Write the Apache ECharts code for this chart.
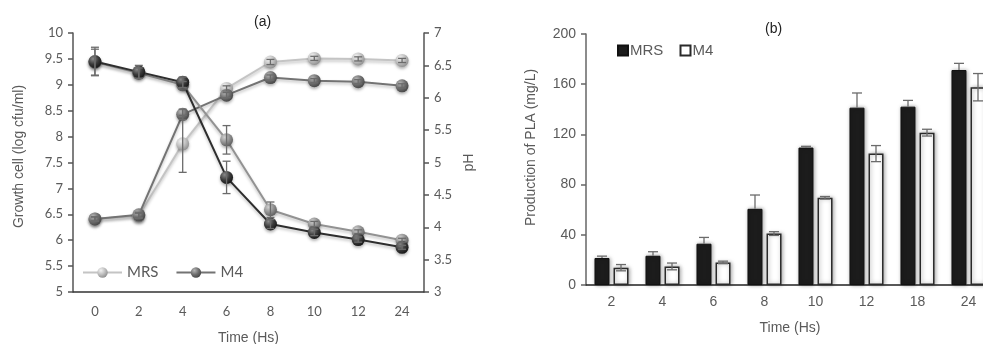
<!DOCTYPE html>
<html lang="en">
<head>
  <meta charset="UTF-8">
  <title>Growth, pH and PLA</title>
  <style>
    html, body { margin: 0; padding: 0; background: #fff; }
    #chart { width: 983px; height: 344px; }
  </style>
</head>
<body>
  <div id="chart"></div>
  <script src="https://cdn.jsdelivr.net/npm/echarts@6/dist/echarts.min.js"></script>
  <script>
    // (a) growth + pH
    var timeA = ['0', '2', '4', '6', '8', '10', '12', '24']
    var growthMRS = [6.41, 6.47, 7.86, 8.93, 9.44, 9.51, 9.5, 9.47]
    var growthMRSErr = [0.04, 0.05, 0.55, 0.05, 0.05, 0.04, 0.04, 0.04]
    var growthM4 = [6.41, 6.49, 8.43, 8.8, 9.14, 9.08, 9.06, 8.98]
    var growthM4Err = [0.04, 0.05, 0.1, 0.05, 0.05, 0.04, 0.04, 0.04]
    var phMRS = [6.55, 6.38, 6.2, 5.35, 4.27, 4.05, 3.93, 3.8]
    var phMRSErr = [0.2, 0.08, 0.05, 0.22, 0.12, 0.04, 0.03, 0.03]
    var phM4 = [6.56, 6.4, 6.24, 4.77, 4.05, 3.92, 3.81, 3.69]
    var phM4Err = [0.22, 0.1, 0.08, 0.25, 0.07, 0.05, 0.04, 0.03]

    // (b) PLA production
    var timeB = ['2', '4', '6', '8', '10', '12', '18', '24']
    var plaMRS = [21.5, 23.3, 32.9, 60.7, 109.5, 141.3, 142.1, 171.3]
    var plaMRSErr = [1.5, 3.2, 5, 11, 1, 11.7, 5, 5.3]
    var plaM4 = [13.8, 14.8, 18, 41, 69.5, 104.7, 121.4, 157.6]
    var plaM4Err = [2.5, 2.7, 1, 1.5, 1, 6.4, 2.7, 10.9]

    var tickFont = 'Lato, "Open Sans", sans-serif'
    var titleFont = '"Liberation Sans", Arial, sans-serif'
    var textGray = '#5a5a5a'

    function sphere(base, light, dark) {
      return new echarts.graphic.RadialGradient(0.35, 0.3, 0.75, [
        { offset: 0, color: light },
        { offset: 0.55, color: base },
        { offset: 1, color: dark }
      ])
    }

    function errData(vals, errs) {
      return vals.map(function (v, i) { return [i, v, errs[i]] })
    }

    // draws one error bar per point; offset shifts it sideways (bars)
    function errRender(offset, upOnly, cap) {
      return function (params, api) {
        var i = api.value(0)
        var v = api.value(1)
        var e = api.value(2)
        var top = api.coord([i, v + e])
        var bot = api.coord([i, upOnly ? v : v - e])
        var x = top[0] + offset
        var style = { stroke: '#6b6b6b', lineWidth: 1.3 }
        var kids = [
          { type: 'line', shape: { x1: x, y1: top[1], x2: x, y2: bot[1] }, style: style },
          { type: 'line', shape: { x1: x - cap, y1: top[1], x2: x + cap, y2: top[1] }, style: style }
        ]
        if (!upOnly) {
          kids.push({ type: 'line', shape: { x1: x - cap, y1: bot[1], x2: x + cap, y2: bot[1] }, style: style })
        }
        return { type: 'group', children: kids }
      }
    }

    function lineSeries(name, data, yIdx, lineColor, base, light, dark) {
      return {
        name: name,
        type: 'line',
        xAxisIndex: 0,
        yAxisIndex: yIdx,
        data: data,
        symbol: 'circle',
        symbolSize: 13,
        lineStyle: {
          color: lineColor, width: 2,
          shadowColor: 'rgba(0,0,0,0.25)', shadowBlur: 3, shadowOffsetY: 2
        },
        itemStyle: {
          color: sphere(base, light, dark),
          shadowColor: 'rgba(0,0,0,0.3)', shadowBlur: 3, shadowOffsetY: 2
        },
        z: 3
      }
    }

    function errSeries(vals, errs, xIdx, yIdx, offset, upOnly, cap) {
      return {
        type: 'custom',
        xAxisIndex: xIdx,
        yAxisIndex: yIdx,
        data: errData(vals, errs),
        encode: { x: 0, y: 1 },
        renderItem: errRender(offset, upOnly, cap),
        silent: true,
        z: 4
      }
    }

    var myChart = echarts.init(document.getElementById('chart'))

    var option = {
      animation: false,
      title: [
        { text: '(a)', left: 249, top: 10, textStyle: { fontFamily: titleFont, fontSize: 14, fontWeight: 'normal', color: '#222' } },
        { text: '(b)', left: 760, top: 17, textStyle: { fontFamily: titleFont, fontSize: 14, fontWeight: 'normal', color: '#222' } }
      ],
      legend: [
        {
          data: ['MRS', 'M4'],
          left: 82, top: 265, padding: 0,
          itemWidth: 39, itemHeight: 13, itemGap: 17,
          textStyle: { fontFamily: tickFont, fontSize: 15, color: textGray }
        },
        {
          data: [
            { name: 'MRS ', icon: 'rect' },
            { name: 'M4 ', icon: 'rect' }
          ],
          left: 617, top: 43, padding: 0,
          itemWidth: 10, itemHeight: 10, itemGap: 12,
          textStyle: { fontFamily: titleFont, fontSize: 15, color: textGray, padding: [0, 0, 0, -3] }
        }
      ],
      grid: [
        { left: 73, top: 33, width: 351, height: 259, outerBoundsMode: 'none' },
        { left: 586, top: 34, width: 408, height: 251, outerBoundsMode: 'none' }
      ],
      xAxis: [
        {
          type: 'category', gridIndex: 0, data: timeA,
          name: 'Time (Hs)', nameLocation: 'middle', nameGap: 39,
          nameTextStyle: { fontFamily: titleFont, fontSize: 14, color: textGray },
          axisLine: { lineStyle: { color: '#333', width: 1.5 } },
          axisTick: { length: 5, lineStyle: { color: '#333', width: 1.5 } },
          axisLabel: { fontFamily: tickFont, fontSize: 13, color: textGray, margin: 13 }
        },
        {
          type: 'category', gridIndex: 1, data: timeB,
          name: 'Time (Hs)', nameLocation: 'middle', nameGap: 36,
          nameTextStyle: { fontFamily: titleFont, fontSize: 14, color: textGray },
          axisLine: { lineStyle: { color: '#222', width: 1.5 } },
          axisTick: { length: 5, lineStyle: { color: '#222', width: 1.5 } },
          axisLabel: { fontFamily: titleFont, fontSize: 14, color: textGray, margin: 10 }
        }
      ],
      yAxis: [
        {
          type: 'value', gridIndex: 0, min: 5, max: 10, interval: 0.5,
          name: 'Growth cell (log cfu/ml)', nameLocation: 'middle', nameGap: 47,
          nameTextStyle: { fontFamily: titleFont, fontSize: 14, color: textGray, padding: [0, 0, 0, 12] },
          axisLine: { show: true, lineStyle: { color: '#555', width: 1.5 } },
          axisTick: { show: true, length: 5, lineStyle: { color: '#555', width: 1.5 } },
          axisLabel: { fontFamily: tickFont, fontSize: 13, color: textGray, margin: 10 },
          splitLine: { show: false }
        },
        {
          type: 'value', gridIndex: 0, position: 'right', min: 3, max: 7, interval: 0.5,
          name: 'pH', nameLocation: 'middle', nameGap: 38, nameRotate: 90,
          nameTextStyle: { fontFamily: titleFont, fontSize: 14, color: textGray },
          axisLine: { show: true, lineStyle: { color: '#555', width: 1.5 } },
          axisTick: { show: true, length: 5, lineStyle: { color: '#555', width: 1.5 } },
          axisLabel: { fontFamily: tickFont, fontSize: 13, color: textGray, margin: 10 },
          splitLine: { show: false }
        },
        {
          type: 'value', gridIndex: 1, min: 0, max: 200, interval: 40,
          name: 'Production of PLA (mg/L)', nameLocation: 'middle', nameGap: 48,
          nameTextStyle: { fontFamily: titleFont, fontSize: 14, color: textGray, padding: [0, 0, 0, 24] },
          axisLine: { show: true, lineStyle: { color: '#666', width: 1.5 } },
          axisTick: { show: true, length: 5, lineStyle: { color: '#666', width: 1.5 } },
          axisLabel: { fontFamily: titleFont, fontSize: 14, color: textGray, margin: 10 },
          splitLine: { show: false }
        }
      ],
      series: [
        lineSeries('MRS', growthMRS, 0, '#c4c4c4', '#bdbdbd', '#f2f2f2', '#8e8e8e'),
        lineSeries('M4', growthM4, 0, '#737373', '#6e6e6e', '#b5b5b5', '#454545'),
        lineSeries('pH MRS', phMRS, 1, '#929292', '#8f8f8f', '#d0d0d0', '#5c5c5c'),
        lineSeries('pH M4', phM4, 1, '#2e2e2e', '#3a3a3a', '#8a8a8a', '#151515'),
        errSeries(growthMRS, growthMRSErr, 0, 0, 0, false, 4),
        errSeries(growthM4, growthM4Err, 0, 0, 0, false, 4),
        errSeries(phMRS, phMRSErr, 0, 1, 0, false, 4),
        errSeries(phM4, phM4Err, 0, 1, 0, false, 4),
        {
          name: 'MRS ', type: 'bar', xAxisIndex: 1, yAxisIndex: 2,
          data: plaMRS, barWidth: 15, barGap: '27%',
          itemStyle: {
            color: '#1c1c1c', borderColor: '#111', borderWidth: 1,
            shadowColor: 'rgba(0,0,0,0.35)', shadowBlur: 4, shadowOffsetX: 1
          }
        },
        {
          name: 'M4 ', type: 'bar', xAxisIndex: 1, yAxisIndex: 2,
          data: plaM4, barWidth: 15,
          itemStyle: {
            color: '#fff', borderColor: '#2a2a2a', borderWidth: 1.5,
            shadowColor: 'rgba(0,0,0,0.35)', shadowBlur: 4, shadowOffsetX: 1
          }
        },
        errSeries(plaMRS, plaMRSErr, 1, 2, -9.5, true, 5),
        errSeries(plaM4, plaM4Err, 1, 2, 9.5, false, 5)
      ]
    }

    myChart.setOption(option)
  </script>
</body>
</html>
